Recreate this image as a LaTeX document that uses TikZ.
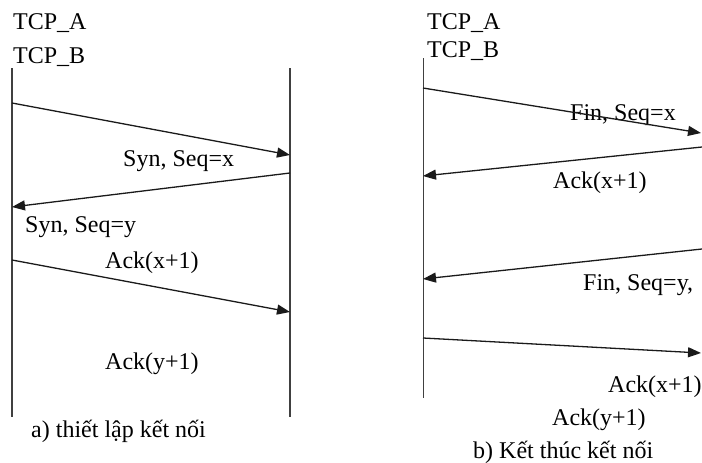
\documentclass[tikz,border=0pt]{standalone}
\usepackage{fontspec}
\setmainfont{Liberation Serif}
\usetikzlibrary{arrows.meta}
\definecolor{lifegray}{HTML}{404040}
\definecolor{msgblack}{HTML}{1A1A1A}

\begin{document}
\begin{tikzpicture}[x=1pt, y=-1pt, font=\fontsize{24}{28}\selectfont,
  lbl/.style={anchor=base west, inner sep=0pt},
  life/.style={draw=lifegray, line width=1.2pt},
  msg/.style={-{Triangle[length=13pt,width=10pt]}, line width=1.3pt, msgblack}]
  \useasboundingbox (0,0) rectangle (702,463);
  % a) thiet lap ket noi
  \node[lbl] (aA) at (13,29) {TCP\_A};
  \node[lbl] (aB) at (13,63) {TCP\_B};
  \foreach \n/\x in {aL/12, aR/290}{
    \coordinate (\n top) at (\x,68);
    \coordinate (\n bot) at (\x,417);
    \draw[life] (\n top) -- (\n bot);
  }
  \coordinate (a1s) at (12,103);  \coordinate (a1e) at (290,155);
  \coordinate (a2s) at (290,173); \coordinate (a2e) at (12,207);
  \coordinate (a3s) at (12,260);  \coordinate (a3e) at (290,312);
  \draw[msg] (a1s) -- (a1e);
  \draw[msg] (a2s) -- (a2e);
  \draw[msg] (a3s) -- (a3e);
  \node[lbl] (synx) at (123,166) {Syn, Seq=x};
  \node[lbl] (syny) at (25,232) {Syn, Seq=y};
  \node[lbl] (ackxa) at (105,268) {Ack(x+1)};
  \node[lbl] (ackya) at (105,369) {Ack(y+1)};
  \node[lbl] (capa) at (31,437) {a) thiết lập kết nối};

  % b) ket thuc ket noi
  \node[lbl] (bA) at (427,29) {TCP\_A};
  \node[lbl] (bB) at (427,57) {TCP\_B};
  \coordinate (bLtop) at (423,58);
  \coordinate (bLbot) at (423,398);
  \draw[life, line width=1pt] (bLtop) -- (bLbot);
  \coordinate (b1s) at (423,88);  \coordinate (b1e) at (701,133);
  \coordinate (b2s) at (702,147); \coordinate (b2e) at (423,176);
  \coordinate (b3s) at (702,249); \coordinate (b3e) at (423,279);
  \coordinate (b4s) at (423,338); \coordinate (b4e) at (701,353);
  \node[lbl] (finx) at (570,120) {Fin, Seq=x};
  \foreach \s/\e in {b1s/b1e, b2s/b2e, b3s/b3e, b4s/b4e}
    \draw[msg] (\s) -- (\e);
  \node[lbl] (ackxb) at (553,188) {Ack(x+1)};
  \node[lbl] (finy) at (583,290) {Fin, Seq=y,};
  \node[lbl] (ackxc) at (608,392) {Ack(x+1)};
  \node[lbl] (ackyb) at (552,425) {Ack(y+1)};
  \node[lbl] (capb) at (473,458) {b) Kết thúc kết nối};
\end{tikzpicture}
\end{document}
